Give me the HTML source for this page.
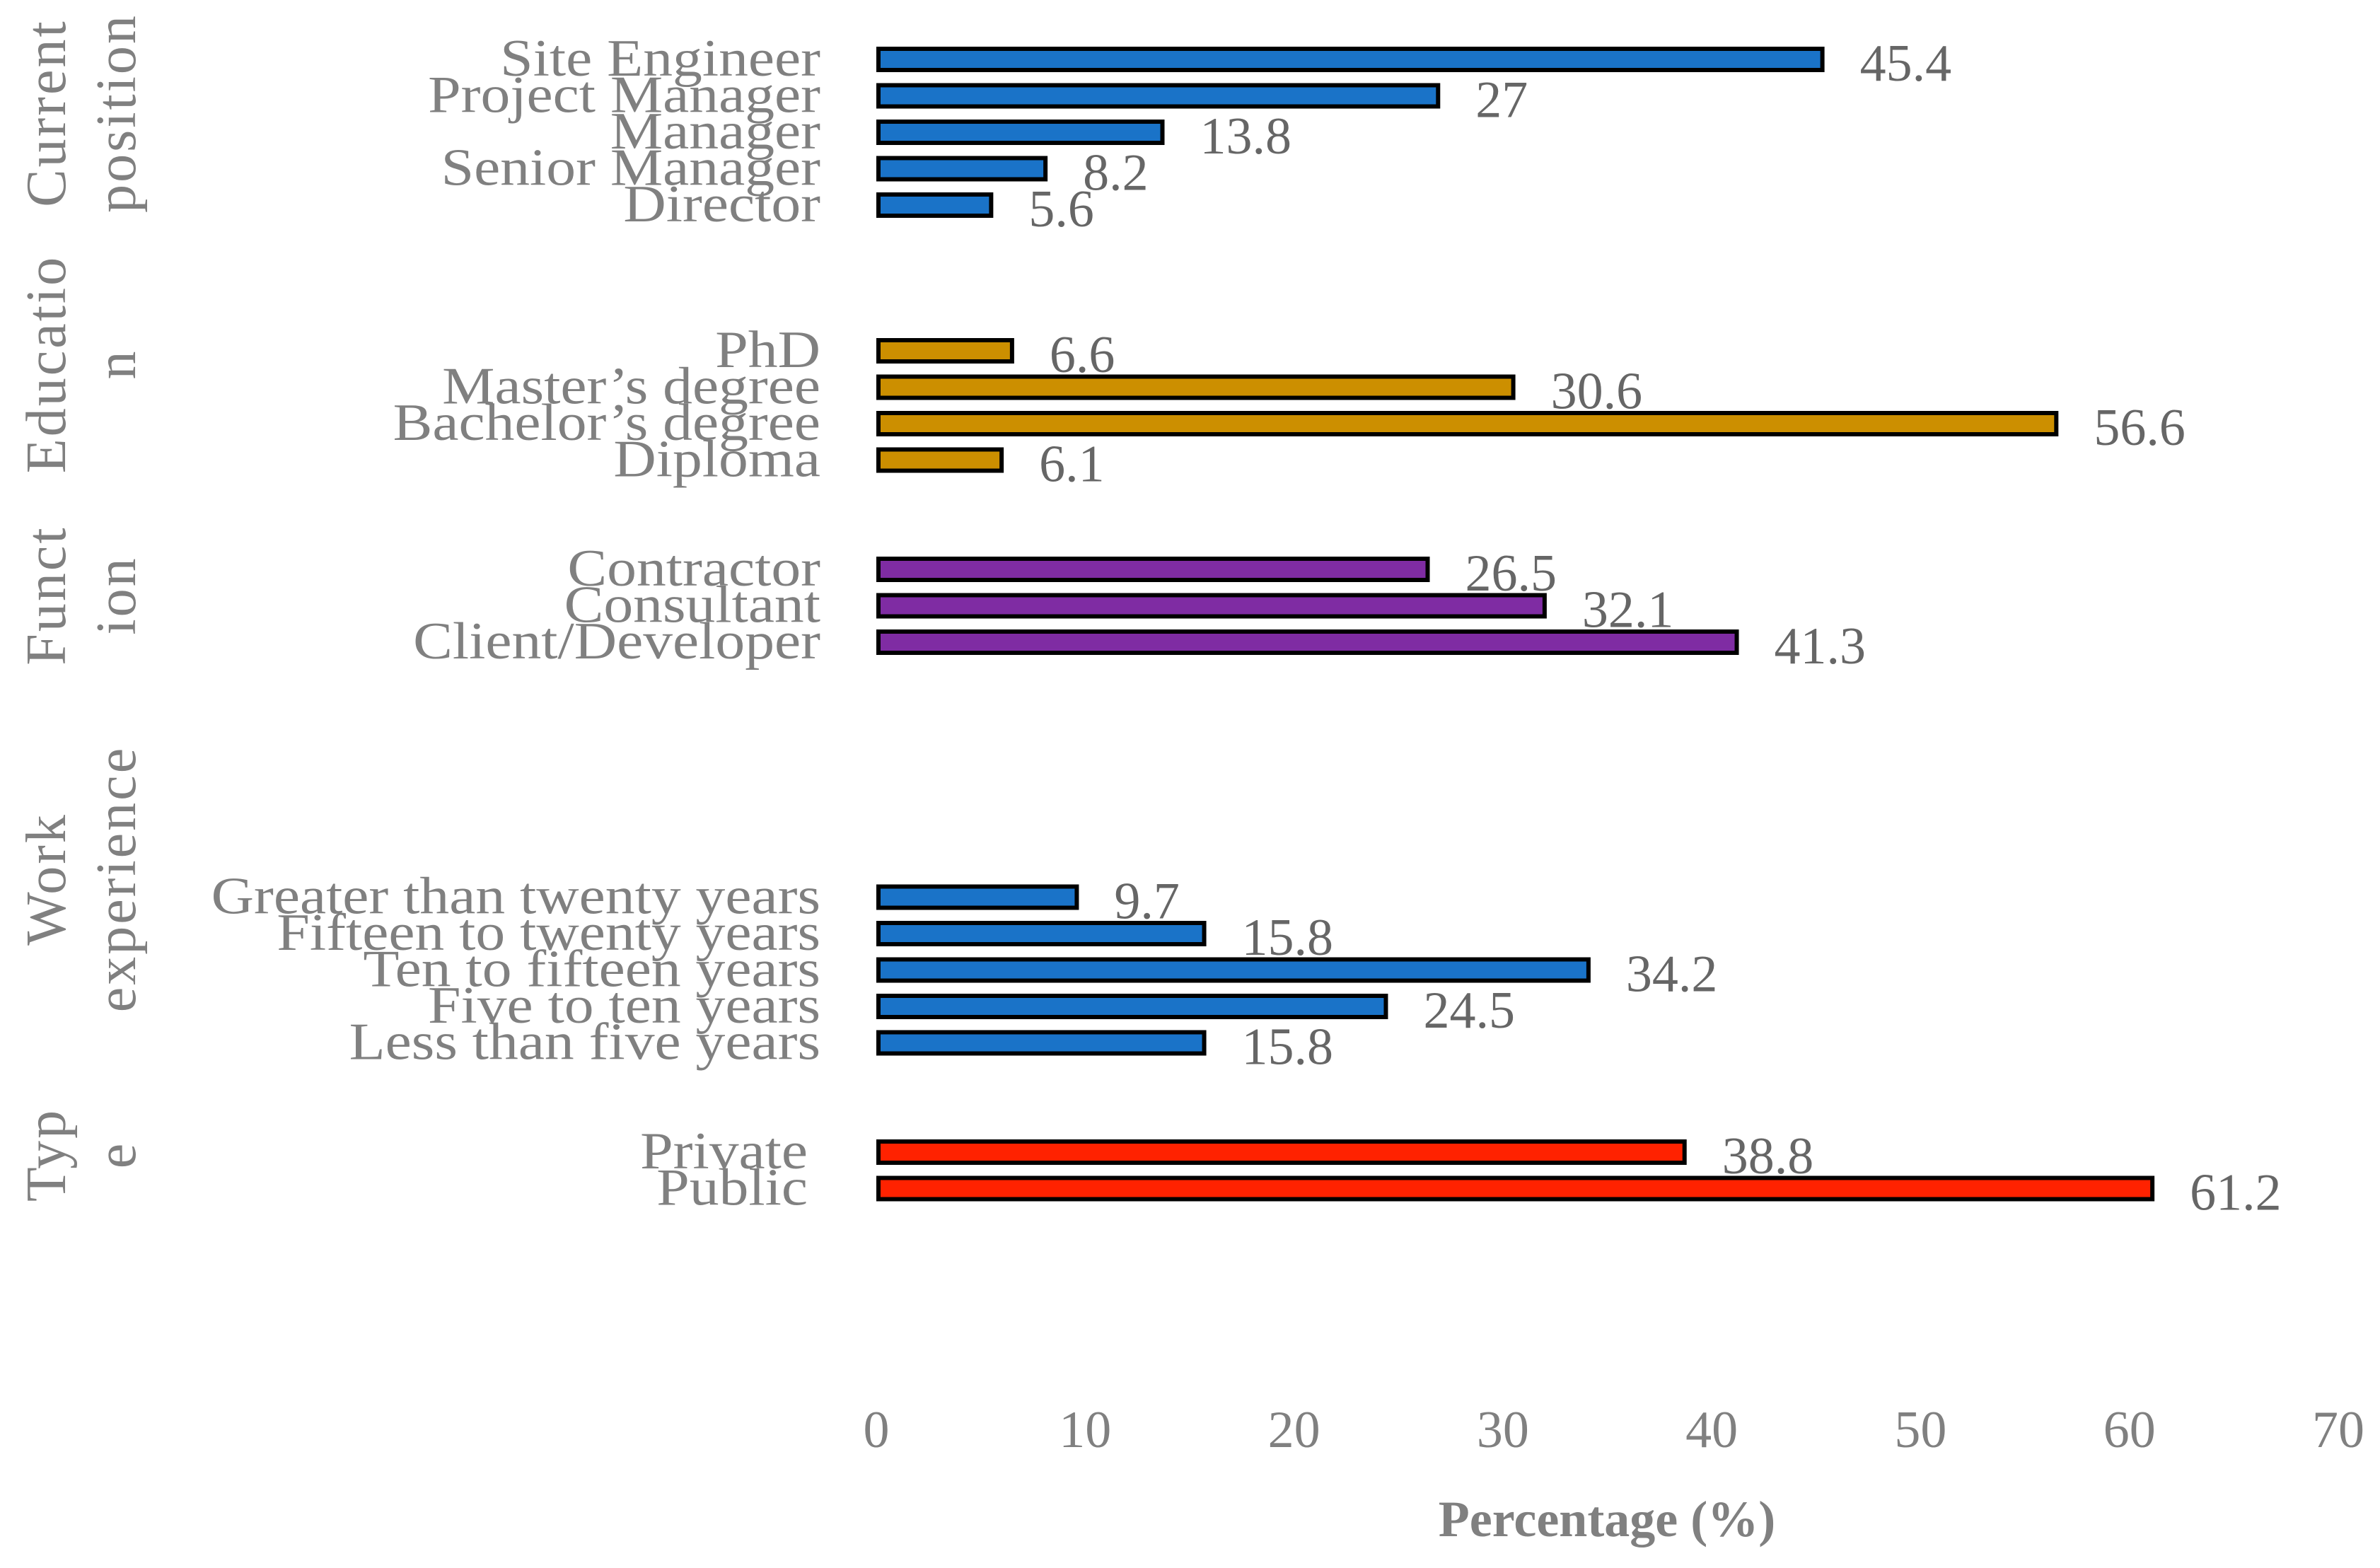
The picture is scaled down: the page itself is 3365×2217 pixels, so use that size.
<!DOCTYPE html>
<html><head><meta charset="utf-8"><style>
html,body{margin:0;padding:0;background:#fff;}
svg{display:block;}
text{font-family:"Liberation Serif",serif;}
</style></head><body>
<svg id="chart" width="3365" height="2217" viewBox="0 0 3365 2217" xmlns="http://www.w3.org/2000/svg">
<g id="groups"></g>
<g id="bars"></g>
<g id="xaxis"></g>
<text x="2272" y="2172" text-anchor="middle" font-size="72" font-weight="bold" fill="#808080">Percentage (%)</text>
</svg>
<script>
const categories = ["Site Engineer","Project Manager","Manager","Senior Manager","Director","PhD","Master’s degree","Bachelor’s degree","Diploma","Contractor","Consultant","Client/Developer","Greater than twenty years","Fifteen to twenty years","Ten to fifteen years","Five to ten years","Less than five years","Private","Public"];
const values = [45.4,27,13.8,8.2,5.6,6.6,30.6,56.6,6.1,26.5,32.1,41.3,9.7,15.8,34.2,24.5,15.8,38.8,61.2];
const valueLabels = ["45.4","27","13.8","8.2","5.6","6.6","30.6","56.6","6.1","26.5","32.1","41.3","9.7","15.8","34.2","24.5","15.8","38.8","61.2"];
const groupOf = ["pos","pos","pos","pos","pos","edu","edu","edu","edu","fun","fun","fun","work","work","work","work","work","type","type"];
const slots = [0,1,2,3,4,8,9,10,11,14,15,16,23,24,25,26,27,30,31];
const groupNames = ["pos","edu","fun","work","type"];
const groupTitleLine1 = ["Current","Educatio","Funct","Work","Typ"];
const groupTitleLine2 = ["position","n","ion","experience","e"];
const groupTitleCenter = [160,515,842,1243,1633];
const xTicks = [0,10,20,30,40,50,60,70];
const xTickLabels = ["0","10","20","30","40","50","60","70"];

const colors = {pos:"#1a73c8",edu:"#cc8f00",fun:"#7f2ca3",work:"#1a73c8",type:"#ff2200"};
const X0 = 1239, X70 = 3306, Y0 = 84, PITCH = 51.5;
const x = v => X0 + (v - 0) * (X70 - X0) / 70;
const y = s => Y0 + s * PITCH;
const NS = "http://www.w3.org/2000/svg";
const bars = document.getElementById('bars');
const gx = document.getElementById('xaxis');
const gg = document.getElementById('groups');

categories.forEach((c, i) => {
  const cy = y(slots[i]);
  const grp = groupOf[i];
  const lab = document.createElementNS(NS, 'text');
  
  
  lab.setAttribute('x', grp === 'type' ? 1142 : 1160);
  lab.setAttribute('y', cy + 23);
  lab.setAttribute('text-anchor', 'end');
  lab.setAttribute('font-size', '74');
  lab.setAttribute('fill', '#808080');
  lab.textContent = c;
  bars.appendChild(lab);
  const w = lab.getComputedTextLength();
  if (w > 0) {
    lab.setAttribute('textLength', (w * 1.13).toFixed(1));
    lab.setAttribute('lengthAdjust', 'spacingAndGlyphs');
  }

  const r = document.createElementNS(NS, 'rect');
  
  
  r.setAttribute('x', x(0) + 3);
  r.setAttribute('y', cy - 15);
  r.setAttribute('width', Math.max(0, x(values[i]) - x(0) - 6));
  r.setAttribute('height', 30);
  r.setAttribute('fill', colors[grp]);
  r.setAttribute('stroke', '#000');
  r.setAttribute('stroke-width', '6');
  bars.appendChild(r);

  const vl = document.createElementNS(NS, 'text');
  
  
  vl.setAttribute('x', x(values[i]) + 50);
  vl.setAttribute('y', cy + 30);
  vl.setAttribute('font-size', '74');
  vl.setAttribute('fill', '#666666');
  vl.textContent = valueLabels[i];
  bars.appendChild(vl);
});

xTicks.forEach((t, i) => {
  const tl = document.createElementNS(NS, 'text');
  
  
  tl.setAttribute('x', x(t));
  tl.setAttribute('y', 2046);
  tl.setAttribute('text-anchor', 'middle');
  tl.setAttribute('font-size', '74');
  tl.setAttribute('fill', '#808080');
  tl.textContent = xTickLabels[i];
  gx.appendChild(tl);
});

groupNames.forEach((g, i) => {
  const cy = groupTitleCenter[i];
  [[groupTitleLine1[i], 92], [groupTitleLine2[i], 191]].forEach(([txt, bx]) => {
    const t = document.createElementNS(NS, 'text');
    
    
    t.setAttribute('transform', 'translate(' + bx + ',' + cy + ') rotate(-90)');
    t.setAttribute('text-anchor', 'middle');
    t.setAttribute('font-size', '80');
    t.setAttribute('letter-spacing', '3');
    t.setAttribute('fill', '#808080');
    t.textContent = txt;
    gg.appendChild(t);
  });
});
</script>
</body></html>
